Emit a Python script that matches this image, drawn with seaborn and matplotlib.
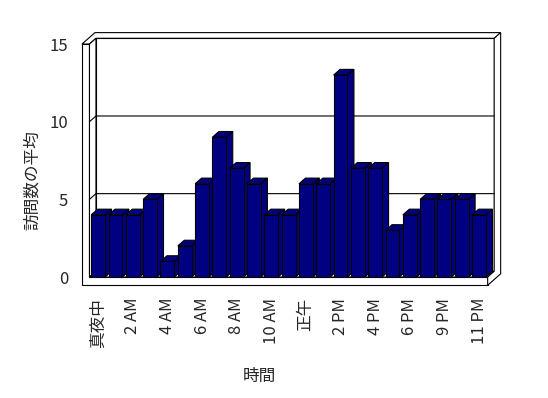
import seaborn as sns
import pandas as pd
import matplotlib.pyplot as plt
from matplotlib.patches import Polygon
import numpy as np

# hourly categories (8 PM is missing in the source data)
hours = ['真夜中', '1 AM', '2 AM', '3 AM', '4 AM', '5 AM', '6 AM', '7 AM', '8 AM',
         '9 AM', '10 AM', '11 AM', '正午', '1 PM', '2 PM', '3 PM', '4 PM', '5 PM',
         '6 PM', '7 PM', '9 PM', '10 PM', '11 PM']
visits = [4, 4, 4, 5, 1, 2, 6, 9, 7, 6, 4, 4, 6, 6, 13, 7, 7, 3, 4, 5, 5, 5, 4]
y_ticks = [0, 5, 10, 15]
grid_values = [5, 10]

sns.set_style('white')
plt.rcParams['font.family'] = ['Noto Sans CJK JP', 'DejaVu Sans']

navy = '#000080'
lw = 0.8

# depth offsets of the fake 3D box (data units)
DX, DY = 0.375, 0.367
T = 0.433   # left wall thickness
F = 0.53    # floor thickness

df = pd.DataFrame({'hour': hours, 'visits': visits})

fig = plt.figure(figsize=(5.48, 3.98), dpi=100)
ax = fig.add_axes([0.1633, 0.3040, 0.7266, 0.5854])
ax.patch.set_visible(False)

sns.barplot(data=df, x='hour', y='visits', color=navy, saturation=1,
            width=0.8, edgecolor='black', linewidth=lw, ax=ax)

xL, xR = -0.5, len(hours) - 0.5
y1 = 15

def add_poly(pts, z, fc='white'):
    ax.add_patch(Polygon(pts, closed=True, facecolor=fc, edgecolor='black',
                         linewidth=lw, zorder=z, clip_on=False))

# walls and floor
add_poly([(xL - T, y1), (xL, y1), (xL, 0), (xR, 0), (xR, -F), (xL - T, -F)], 0.6)
add_poly([(xL - T, y1), (xL, y1), (xL + DX, y1 + DY), (xR + DX, y1 + DY),
          (xR + 2 * DX, y1 + 2 * DY), (xL - T + 2 * DX, y1 + 2 * DY)], 0.6)
add_poly([(xL, y1), (xL + DX, y1 + DY), (xL + DX, DY), (xL, 0)], 0.6)
add_poly([(xL + DX, DY), (xR + DX, DY), (xR + DX, y1 + DY), (xL + DX, y1 + DY)], 0.6)
add_poly([(xL, 0), (xL + DX, DY), (xR + DX, DY), (xR, 0)], 0.6)
add_poly([(xR + DX, y1 + DY), (xR + 2 * DX, y1 + 2 * DY), (xR + 2 * DX, -F + 2 * DY),
          (xR, -F), (xR, 0), (xR + DX, DY)], 0.6)

# gridlines on the back wall and the inner side of the left wall
for v in grid_values:
    ax.plot([xL, xL + DX, xR + DX], [v, v + DY, v + DY], color='black',
            linewidth=lw, zorder=0.7, clip_on=False)

# sides and tops of bars, painted left to right
for i, p in enumerate(ax.patches[:len(visits)]):
    x0, w, h = p.get_x(), p.get_width(), p.get_height()
    p.set_zorder(1.01 + 0.02 * i)
    add_poly([(x0 + w, 0), (x0 + w + DX, DY), (x0 + w + DX, h + DY), (x0 + w, h)],
             1.0 + 0.02 * i, fc=navy)
    add_poly([(x0, h), (x0 + DX, h + DY), (x0 + w + DX, h + DY), (x0 + w, h)],
             1.0 + 0.02 * i, fc=navy)

for s in ax.spines.values():
    s.set_visible(False)

ax.set_xlim(xL, xR)
ax.set_ylim(0, 15)
ax.set_yticks(y_ticks)
ax.set_xticks(range(len(hours)))
ax.set_xticklabels([h if i % 2 == 0 else '' for i, h in enumerate(hours)],
                   rotation=90, fontsize=12)
ax.set_xticks(np.arange(0.5, len(hours) - 1, 1), minor=True)
ax.tick_params(axis='x', which='major', length=0, pad=15)
ax.tick_params(axis='x', which='minor', length=5.9, width=lw, color='black',
               direction='out', bottom=True)
ax.tick_params(axis='y', length=5.4, width=lw, color='black', direction='out',
               left=True, pad=10, labelsize=12)

ax.set_xlabel('時間', fontsize=12, va='center')
ax.set_ylabel('訪問数の平均', fontsize=12, va='center')
ax.xaxis.set_label_coords(0.426, -0.429)
ax.yaxis.set_label_coords(-0.144, 0.416)

fig.savefig('out.png', dpi=100)
